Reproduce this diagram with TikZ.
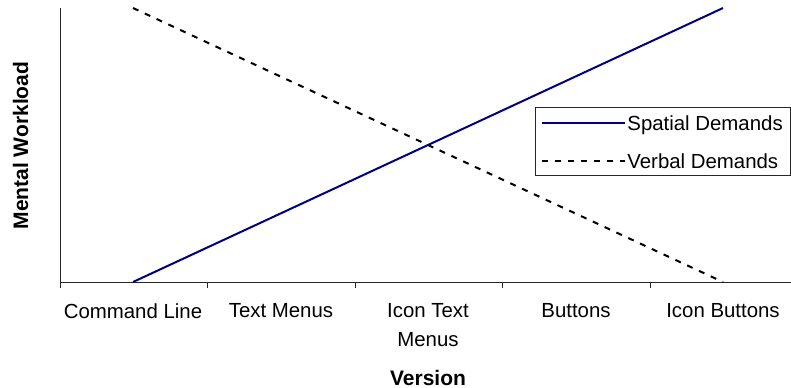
\documentclass[tikz,border=0pt]{standalone}
\usepackage{fontspec}
\setmainfont{Liberation Sans}
\usepackage{xcolor}
\usepackage{tikz}
\definecolor{spatialblue}{RGB}{0,0,128}

\begin{document}
\begin{tikzpicture}[x=.5pt,y=-.5pt,font=\fontsize{10.2}{14.5}\selectfont,
    axisline/.style={line width=.5pt,black!85},
    spatial/.style={spatialblue,line width=1pt},
    verbal/.style={black,line width=1pt,dash pattern=on 3pt off 3.5pt}]
    \useasboundingbox (0,0) rectangle (791,387);
    % axes
    \draw[axisline] (60,8) -- (60,282) -- (791,282);
    \foreach \x in {60,207.5,355,502.5,650}{
      \draw[axisline] (\x,282) -- (\x,288);
    }
    \foreach \x/\lab/\nm in {133/{Command Line}/cmd,281/{Text Menus}/txt,428/{Icon Text\\Menus}/icontxt,576/{Buttons}/btn,723/{Icon Buttons}/iconbtn}{
      \node[anchor=north,inner sep=0pt,align=center] (\nm) at (\x,303.5) {\lab};
    }
    % data
    \coordinate (s0) at (133,282);
    \coordinate (s1) at (723,8);
    \coordinate (v0) at (133,8);
    \coordinate (v1) at (723,282);
    \draw[spatial] (s0) -- (s1);
    \draw[verbal] (v0) -- (v1);
    % titles
    \node[font=\fontsize{10.5}{12}\selectfont\bfseries,anchor=base] (xtitle) at (428,385) {Version};
    \node[font=\fontsize{10.5}{12}\selectfont\bfseries,rotate=90,anchor=base] (ytitle) at (28,145.5) {Mental Workload};
    % legend
    \draw[line width=.5pt,black!85] (535,107.5) rectangle (790,175);
    \coordinate (ls0) at (542,123);
    \coordinate (ls1) at (625,123);
    \coordinate (lv0) at (542,161);
    \coordinate (lv1) at (625,161);
    \draw[spatial] (ls0) -- (ls1);
    \draw[verbal] (lv0) -- (lv1);
    \node[anchor=base west,inner sep=0pt] (lspatial) at (627,130.5) {Spatial Demands};
    \node[anchor=base west,inner sep=0pt] (lverbal) at (627,168.5) {Verbal Demands};
  \end{tikzpicture}
\end{document}
